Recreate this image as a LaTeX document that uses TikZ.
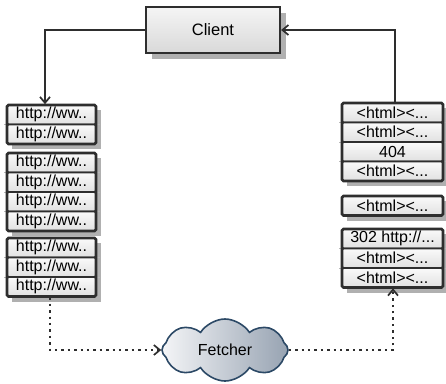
\documentclass[tikz,border=0pt]{standalone}
\usepackage{fontspec}
\setmainfont{Liberation Sans}
\usetikzlibrary{arrows.meta,shapes.symbols,calc}

\definecolor{edge}{HTML}{2E2E2E}
\definecolor{shade}{HTML}{B0B0B0}
\definecolor{cloudedge}{HTML}{2C4966}
\definecolor{cloudlight}{HTML}{F4F5F7}
\definecolor{clouddark}{HTML}{97A3B2}

% row labels
\newcommand{\urltxt}{http://ww.{}.}
\newcommand{\pagetxt}{<html><.{}.{}.}
\newcommand{\redirtxt}{302 http://.{}.{}.}

\tikzset{
  rowbox/.style={draw=edge, line width=1.6pt, rounded corners=1.5pt,
    top color=white!96!gray, bottom color=gray!24,
    minimum width=#1, minimum height=19.5pt, inner sep=0pt,
    font=\fontsize{16}{18}\selectfont},
  groupframe/.style={draw=edge, line width=2.6pt, rounded corners=1.5pt},
  groupshadow/.style={fill=shade, draw=none},
  tick/.style={draw=gray!55, line width=0.6pt},
  link/.style={draw=edge, line width=1.6pt},
  dotlink/.style={draw=edge, line width=2.4pt, dash pattern=on 2.4pt off 4pt},
  barb/.style={-{Straight Barb[length=6pt,width=10pt,line width=1.7pt]}},
}

% One stacked column of rows: name prefix, left x, top y, width, texts
\newcommand{\rowstack}[5]{%
  \foreach \lbl [count=\i] in {#5} {\global\let\rowcount\i}%
  \fill[groupshadow] (#2+5,#3+5) rectangle (#2+#4+5,#3+\rowcount*19.5+5);
  \foreach \lbl [count=\i] in {#5} {
    \node[rowbox=#4pt] (#1-\i) at (#2+#4/2,#3+\i*19.5-9.75) {\lbl};
  }
  \foreach \lbl [count=\i] in {#5} {
    \ifnum\i>1
      \draw[tick] (#2-3,#3+\i*19.5-19.5) -- (#2,#3+\i*19.5-19.5);
      \draw[tick] (#2+#4,#3+\i*19.5-19.5) -- (#2+#4+4,#3+\i*19.5-19.5);
    \fi
  }
  \draw[groupframe] (#2,#3) rectangle (#2+#4,#3+\rowcount*19.5);
}

\begin{document}
\begin{tikzpicture}[x=1pt,y=-1pt]
\useasboundingbox (0,0) rectangle (446,383);

% Client box with its shadow
\fill[groupshadow] (152,13) rectangle (286,59);
\node[draw=edge, line width=2.2pt, top color=gray!8, bottom color=gray!30,
      minimum width=134pt, minimum height=46pt, inner sep=0pt,
      font=\fontsize{16.5}{18}\selectfont] (client) at (213,30) {Client};

% URL queues
\rowstack{ua}{7}{105}{89}{\urltxt,\urltxt}
\rowstack{ub}{7}{153}{89}{\urltxt,\urltxt,\urltxt,\urltxt}
\rowstack{uc}{7}{238}{89}{\urltxt,\urltxt,\urltxt}

% Fetched pages
\rowstack{pa}{342}{103}{101}{\pagetxt,\pagetxt,404,\pagetxt}
\rowstack{pb}{342}{196}{101}{\pagetxt}
\rowstack{pc}{342}{229}{101}{\redirtxt,\pagetxt,\pagetxt}

% Fetcher cloud
\node[cloud, cloud puffs=8, cloud puff arc=115, aspect=2.0,
      draw=cloudedge, line width=1.6pt,
      left color=cloudlight, right color=clouddark,
      minimum width=126pt, minimum height=62pt, inner sep=0pt,
      font=\fontsize{16}{18}\selectfont] (fetcher) at (225,350) {Fetcher};

% Connectors
\coordinate (lt) at (45,30);
\coordinate (rt) at (395,30);
\draw[link,barb] (client.west) -- (lt) -- (ua-1.north -| lt);
\draw[link,barb] (pa-1.north -| rt) -- (rt) -- (client.east);

\coordinate (lb) at (50,350);
\coordinate (rb) at (393,350);
\draw[dotlink,barb] (uc-3.south -| lb) -- (lb) -- (fetcher.west);
\draw[dotlink,barb] (fetcher.east) -- (rb) -- (pc-3.south -| rb);
\end{tikzpicture}
\end{document}
